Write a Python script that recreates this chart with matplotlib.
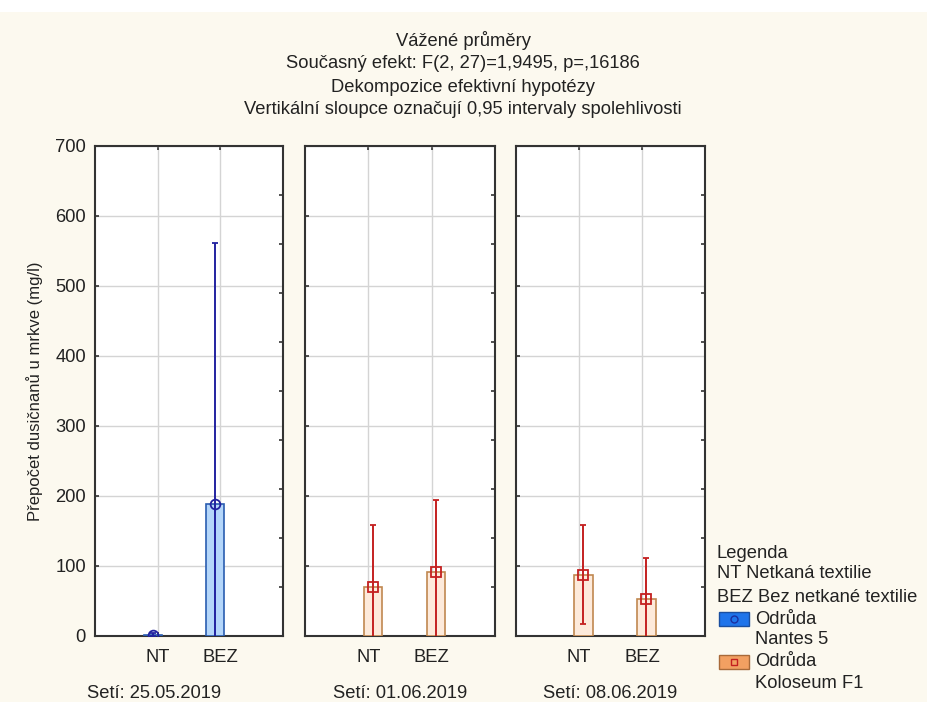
import numpy as np
import matplotlib
matplotlib.use("Agg")
import matplotlib.pyplot as plt
from matplotlib.patches import Rectangle

plt.rcParams['font.family'] = ['Liberation Sans', 'DejaVu Sans']

# data
categories = ["NT", "BEZ"]
dates = ["Setí: 25.05.2019", "Setí: 01.06.2019", "Setí: 08.06.2019"]
means = [[2, 189], [70, 91], [87, 53]]
upper = [[4, 562], [158, 195], [158, 111]]
lower = [[0, -184], [-18, -13], [17, -5]]
variety = [0, 1, 1]  # 0 = Nantes 5, 1 = Koloseum F1

titles = ["Vážené průměry",
          "Současný efekt: F(2, 27)=1,9495, p=,16186",
          "Dekompozice efektivní hypotézy",
          "Vertikální sloupce označují 0,95 intervaly spolehlivosti"]
ylabel = "Přepočet dusičnanů u mrkve (mg/l)"
legend_lines = ["Legenda", "NT Netkaná textilie", "BEZ Bez netkané textilie"]
legend_items = [("Odrůda", "Nantes 5"), ("Odrůda", "Koloseum F1")]

# styles per variety
bar_face = ["#b4d6fa", "#fdeadb"]
bar_edge = ["#2a5db0", "#c08850"]
err_col = ["#2222a0", "#c42020"]
marker = ["o", "s"]
offset = [-0.08, 0.07]
patch_face = ["#1f74ea", "#f2a062"]
patch_edge = ["#1a4fa0", "#a86a3a"]

W, H = 927, 702
bg = "#fcf9ef"
fig = plt.figure(figsize=(W / 100, H / 100), dpi=100, facecolor=bg)
fig.add_artist(Rectangle((0, 1 - 12 / H), 1, 12 / H, transform=fig.transFigure,
                         facecolor="white", edgecolor="none"))

lefts = [95, 305, 516]
widths = [188, 190, 189]
top_px, bot_px = 146, 636
fs = 13.2

for i in range(3):
    ax = fig.add_axes([lefts[i] / W, (H - bot_px) / H, widths[i] / W, (bot_px - top_px) / H])
    v = variety[i]
    x = np.arange(len(categories)) + offset[v]
    m = np.array(means[i])
    lo = m - np.array(lower[i])
    hi = np.array(upper[i]) - m
    ax.bar(x, m, width=0.29, color=bar_face[v], edgecolor=bar_edge[v], linewidth=1.2, zorder=3)
    ax.errorbar(x, m, yerr=[lo, hi], fmt=marker[v], color=err_col[v], mfc="none", mec=err_col[v],
                ms=7, mew=1.3, elinewidth=1.4, capsize=2.5, capthick=1.4, zorder=4)
    ax.set_xlim(-1, 2)
    ax.set_ylim(0, 700)
    ax.set_yticks(np.arange(0, 701, 100))
    ax.set_xticks(np.arange(len(categories)))
    ax.set_xticklabels(categories, fontsize=fs, color="#222222")
    ax.grid(True, color="#d4d4d4", linewidth=1, zorder=0)
    ax.set_axisbelow(True)
    ax.tick_params(direction="in", length=3, width=1.2, top=True, colors="#333333",
                   labelcolor="#222222", pad=9.5)
    if i == 0:
        ax.tick_params(axis="y", labelsize=fs, pad=6.5)
        ax.set_ylabel(ylabel, fontsize=12, color="#222222", labelpad=9)
    else:
        ax.tick_params(axis="y", labelleft=False)
    for s in ax.spines.values():
        s.set_color("#333333")
        s.set_linewidth(1.5)
    ax2 = ax.twinx()
    ax2.set_ylim(0, 700)
    ax2.set_yticks(np.arange(0, 701, 70))
    ax2.tick_params(direction="in", length=3, width=1.2, labelright=False, colors="#333333")
    for s in ax2.spines.values():
        s.set_visible(False)

date_x = [154, 400, 610]
for i, d in enumerate(dates):
    fig.text(date_x[i] / W, 1 - 693 / H, d, ha="center", va="center", fontsize=fs, color="#222222")

title_y = [41, 64, 87, 110]
for t, y in zip(titles, title_y):
    fig.text(463 / W, 1 - y / H, t, ha="center", va="center", fontsize=fs, color="#222222")

# legend
ly = [553, 574, 597]
for t, y in zip(legend_lines, ly):
    fig.text(717 / W, 1 - y / H, t, ha="left", va="center", fontsize=fs, color="#222222")
item_y = [619, 662]
for k, (a, b) in enumerate(legend_items):
    y = item_y[k]
    fig.add_artist(Rectangle((719 / W, 1 - (y + 7) / H), 30 / W, 14 / H, transform=fig.transFigure,
                             facecolor=patch_face[k], edgecolor=patch_edge[k], linewidth=1))
    fig.add_artist(plt.Line2D([734 / W], [1 - y / H], transform=fig.transFigure, marker=marker[k],
                              ms=5, mfc="none", mec=["#1a2fa0", "#c42020"][k], mew=1))
    fig.text(755 / W, 1 - y / H, a, ha="left", va="center", fontsize=fs, color="#222222")
    fig.text(755 / W, 1 - (y + 21) / H, b, ha="left", va="center", fontsize=fs, color="#222222")

fig.savefig("out.png", dpi=100, facecolor=bg)
